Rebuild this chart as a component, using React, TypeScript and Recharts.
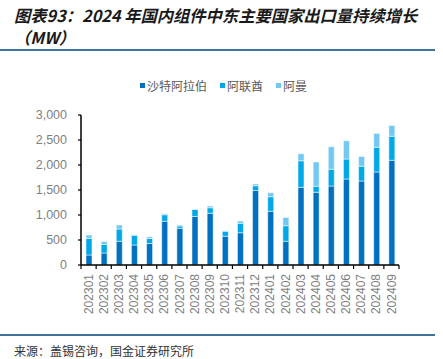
import React from 'react';
import { BarChart, Bar, XAxis, YAxis } from 'recharts';

const months = [
  '202301', '202302', '202303', '202304', '202305', '202306', '202307',
  '202308', '202309', '202310', '202311', '202312', '202401', '202402',
  '202403', '202404', '202405', '202406', '202407', '202408', '202409',
];
const saudi = [200, 240, 475, 400, 430, 875, 735, 970, 1035, 575, 645, 1490, 1075, 475, 1555, 1455, 1580, 1720, 1680, 1860, 2095];
const uae = [333, 170, 245, 195, 100, 130, 45, 140, 110, 100, 190, 95, 290, 310, 530, 120, 335, 400, 295, 495, 480];
const oman = [67, 60, 80, 10, 35, 20, 20, 10, 35, 10, 45, 35, 80, 165, 140, 485, 450, 365, 195, 275, 215];
const yTicks = [0, 500, 1000, 1500, 2000, 2500, 3000];

const seriesNames = ['沙特阿拉伯', '阿联酋', '阿曼'];
const colors = ['#0070c0', '#00a8e8', '#72c8f2'];

const data = months.map((m, i) => ({ month: m, saudi: saudi[i], uae: uae[i], oman: oman[i] }));

const cjk = "'Noto Sans CJK SC', 'Noto Sans', sans-serif";
const latin = "'Liberation Sans', Arial, sans-serif";

const XTick = (props: any) => {
  const { x, y, payload, index, width, visibleTicksCount } = props;
  const count = visibleTicksCount || months.length;
  const band = (width || 318) / count;
  const ty = y + 9;
  return (
    <g>
      <line x1={x - band / 2} x2={x - band / 2} y1={y} y2={y + 4} stroke="#000" strokeWidth={1.2} />
      {index === count - 1 && (
        <line x1={x + band / 2} x2={x + band / 2} y1={y} y2={y + 4} stroke="#000" strokeWidth={1.2} />
      )}
      <text
        x={x}
        y={ty}
        dy="0.35em"
        transform={`rotate(-90, ${x}, ${ty})`}
        textAnchor="end"
        fill="#7f7f7f"
        fontSize={12}
        fontFamily={latin}
      >
        {payload.value}
      </text>
    </g>
  );
};

export default function App() {
  return (
    <div style={{ position: 'absolute', left: 0, top: 0, width: 443, height: 359, background: '#fff', overflow: 'hidden' }}>
      <div
        style={{
          position: 'absolute', left: 14, top: 4, fontFamily: cjk, fontSize: 16.3, fontWeight: 'bold',
          fontStyle: 'italic', color: '#1a1a1a', lineHeight: '22px', whiteSpace: 'nowrap',
        }}
      >
        <div>图表93：2024 年国内组件中东主要国家出口量持续增长</div>
        <div>（MW）</div>
      </div>
      <div style={{ position: 'absolute', left: 0, top: 49, width: 435, height: 2, background: '#41729c' }} />

      <div
        style={{
          position: 'absolute', left: 140, top: 77, display: 'flex', alignItems: 'center',
          fontFamily: cjk, fontSize: 12, color: '#595959', whiteSpace: 'nowrap',
        }}
      >
        {seriesNames.map((n, i) => (
          <div key={n} style={{ display: 'flex', alignItems: 'center', marginRight: 13 }}>
            <span style={{ width: 5, height: 5, background: colors[i], marginRight: 2, display: 'inline-block' }} />
            <span>{n}</span>
          </div>
        ))}
      </div>

      <div style={{ position: 'absolute', left: 0, top: 100 }}>
        <BarChart width={443} height={215} data={data} margin={{ top: 15, right: 44, left: 0, bottom: 0 }}>
          <XAxis
            dataKey="month"
            interval={0}
            height={50}
            tickSize={0}
            tickMargin={0}
            tickLine={false}
            axisLine={{ stroke: '#000', strokeWidth: 1.5 }}
            tick={<XTick />}
          />
          <YAxis
            width={81}
            domain={[0, 3000]}
            ticks={yTicks}
            tickSize={3}
            tickMargin={11}
            axisLine={{ stroke: '#000', strokeWidth: 1.5 }}
            tickLine={{ stroke: '#000', strokeWidth: 1.2 }}
            tick={{ fill: '#7f7f7f', fontSize: 12.5, fontFamily: latin }}
            tickFormatter={(v: number) => v.toLocaleString('en-US')}
          />
          <Bar dataKey="saudi" name={seriesNames[0]} stackId="a" fill={colors[0]} barSize={6} stroke="#fff" strokeWidth={0.5} isAnimationActive={false} />
          <Bar dataKey="uae" name={seriesNames[1]} stackId="a" fill={colors[1]} barSize={6} stroke="#fff" strokeWidth={0.5} isAnimationActive={false} />
          <Bar dataKey="oman" name={seriesNames[2]} stackId="a" fill={colors[2]} barSize={6} stroke="#fff" strokeWidth={0.5} isAnimationActive={false} />
        </BarChart>
      </div>

      <div style={{ position: 'absolute', left: 0, top: 334, width: 435, height: 2, background: '#41729c' }} />
      <div style={{ position: 'absolute', left: 14, top: 342, fontFamily: cjk, fontSize: 12, color: '#333', whiteSpace: 'nowrap' }}>
        来源：盖锡咨询，国金证券研究所
      </div>
    </div>
  );
}
